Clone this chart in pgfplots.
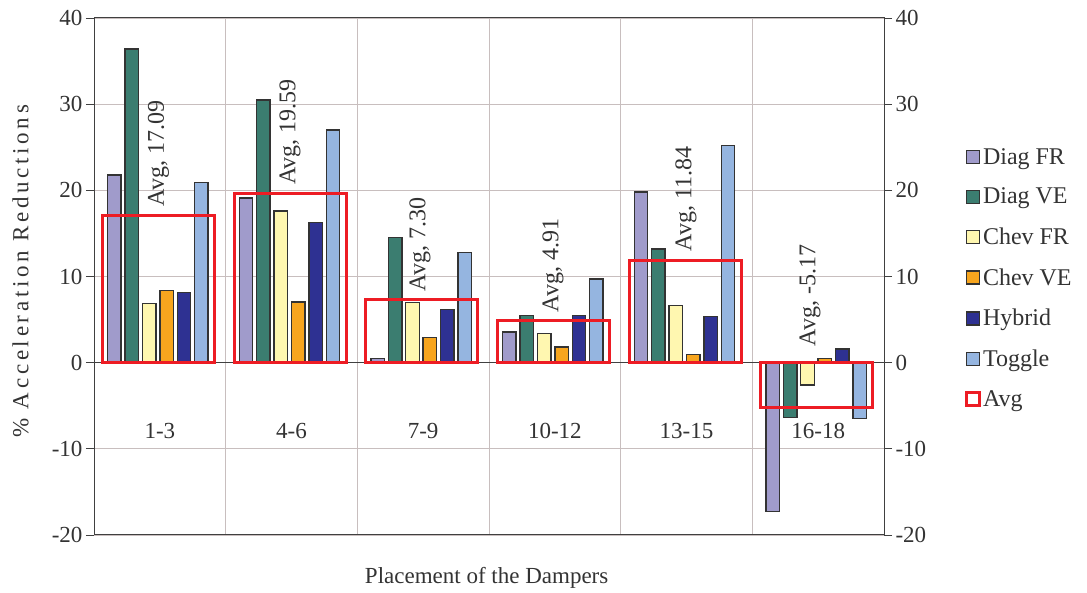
\documentclass[border=0pt]{standalone}
\usepackage{fontspec}
\setmainfont{Liberation Serif}
\newfontfamily\tnr{Liberation Serif}
\newfontfamily\spaced[LetterSpace=16]{Liberation Serif}
\usepackage{pgfplots}
\pgfplotsset{compat=1.18}

\definecolor{diagfr}{HTML}{A09BCB}
\definecolor{diagve}{HTML}{3B7D70}
\definecolor{chevfr}{HTML}{FFF7B0}
\definecolor{chevve}{HTML}{F7A51E}
\definecolor{hybrid}{HTML}{2E3192}
\definecolor{toggle}{HTML}{95B5E0}
\definecolor{avgred}{HTML}{ED1C24}
\definecolor{edge}{HTML}{333333}
\definecolor{gridc}{HTML}{C8BEBE}
\definecolor{axisc}{HTML}{404040}

\newcommand{\bigf}{\tnr\fontsize{23}{27}\selectfont}

\begin{document}
\begin{tikzpicture}
\path[use as bounding box] (0,0) rectangle (1087pt,593pt);
\begin{axis}[
    at={(94pt,58pt)}, anchor=south west,
    scale only axis, width=790pt, height=517pt,
    ybar, bar width=0.102,
    xmin=-0.5, xmax=5.5, ymin=-20, ymax=40,
    xtick={0.5,1.5,2.5,3.5,4.5}, xticklabels={},
    xtick style={draw=none},
    ytick={-20,-10,...,40},
    ytick pos=left, tick align=outside, major tick length=8pt,
    ytick style={line width=0.8pt, color=axisc},
    xmajorgrids, ymajorgrids,
    grid style={color=gridc, line width=0.8pt},
    extra y ticks={0}, extra y tick labels={},
    extra y tick style={grid style={color=axisc, line width=1pt}, major tick length=0pt},
    axis line style={color=axisc, line width=1pt},
    tick label style={font=\bigf, color=black!80},
    /pgf/number format/assume math mode=true,
    xlabel={Placement of the Dampers},
    ylabel={\spaced\% Acceleration Reductions},
    label style={font=\tnr\fontsize{23}{27}\selectfont, color=black!80},
    xlabel style={at={(axis description cs:0.497,-0.083)}, anchor=center},
    ylabel style={at={(axis description cs:-0.093,0.51)}, anchor=center},
    legend image code/.code={\draw[#1] (0pt,-6.5pt) rectangle (13pt,6.5pt);},
    legend style={draw=none, fill=none, at={(1,0.497)}, anchor=west, xshift=78pt,
        font=\tnr\fontsize{24}{28}\selectfont, text=black!80, row sep=18.5pt,
        cells={anchor=west}},
]
\addplot[fill=diagfr, draw=edge, line width=1.4pt, bar shift=-0.345]
    coordinates {(0,21.8) (1,19.1) (2,0.5) (3,3.55) (4,19.8) (5,-17.3)};
\addplot[fill=diagve, draw=edge, line width=1.4pt, bar shift=-0.213]
    coordinates {(0,36.4) (1,30.5) (2,14.5) (3,5.5) (4,13.2) (5,-6.34)};
\addplot[fill=chevfr, draw=edge, line width=1.4pt, bar shift=-0.081]
    coordinates {(0,6.84) (1,17.6) (2,7.0) (3,3.36) (4,6.65) (5,-2.6)};
\addplot[fill=chevve, draw=edge, line width=1.4pt, bar shift=0.051]
    coordinates {(0,8.35) (1,7.04) (2,2.9) (3,1.8) (4,0.93) (5,0.5)};
\addplot[fill=hybrid, draw=edge, line width=1.4pt, bar shift=0.183]
    coordinates {(0,8.15) (1,16.3) (2,6.2) (3,5.5) (4,5.33) (5,1.6)};
\addplot[fill=toggle, draw=edge, line width=1.4pt, bar shift=0.315]
    coordinates {(0,20.9) (1,27.0) (2,12.8) (3,9.7) (4,25.2) (5,-6.5)};
\addplot[fill=none, draw=avgred, line width=2.8pt, bar width=0.85, bar shift=-0.01]
    coordinates {(0,17.09) (1,19.59) (2,7.30) (3,4.91) (4,11.84) (5,-5.17)};
\legend{Diag FR, Diag VE, Chev FR, Chev VE, Hybrid, Toggle, Avg}

\begin{scope}[every node/.style={rotate=90, anchor=west, inner sep=0pt,
    font=\tnr\fontsize{24}{28}\selectfont, color=black!80}]
\node at (axis cs:-0.01,18.1) {Avg, 17.09};
\node at (axis cs:0.989,20.6) {Avg, 19.59};
\node at (axis cs:1.976,8.27) {Avg, 7.30};
\node at (axis cs:2.986,5.8) {Avg, 4.91};
\node at (axis cs:3.996,12.9) {Avg, 11.84};
\node at (axis cs:4.938,1.86) {Avg, -5.17};
\end{scope}

\begin{scope}[every node/.style={font=\tnr\fontsize{23}{27}\selectfont, color=black!80}]
\node at (axis cs:0,-7.9) {1-3};
\node at (axis cs:1,-7.9) {4-6};
\node at (axis cs:2,-7.9) {7-9};
\node at (axis cs:3,-7.9) {10-12};
\node at (axis cs:4,-7.9) {13-15};
\node at (axis cs:5,-7.9) {16-18};
\end{scope}
\end{axis}

\begin{axis}[
    at={(94pt,58pt)}, anchor=south west,
    scale only axis, width=790pt, height=517pt,
    xmin=-0.5, xmax=5.5, ymin=-20, ymax=40,
    axis x line=none, axis y line*=right,
    ytick={-20,-10,...,40},
    tick align=outside, major tick length=8pt,
    ytick style={line width=0.8pt, color=axisc},
    axis line style={color=axisc, line width=1pt},
    tick label style={font=\bigf, color=black!80},
    /pgf/number format/assume math mode=true,
]
\end{axis}
\end{tikzpicture}
\end{document}
